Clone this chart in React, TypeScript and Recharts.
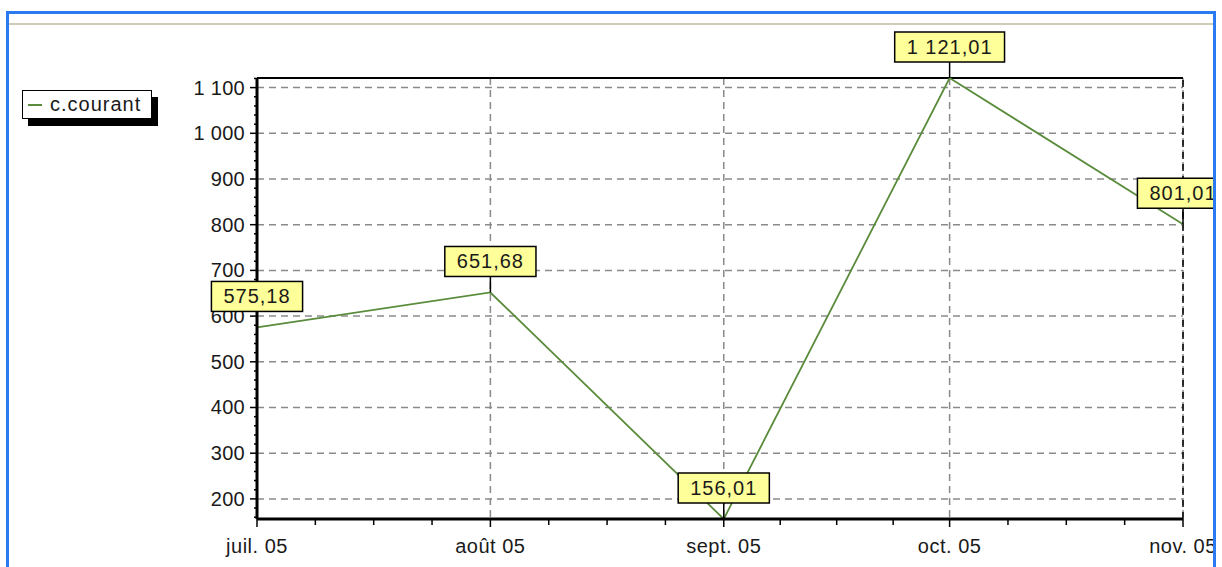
import React from 'react';
import { LineChart, Line, XAxis, YAxis, CartesianGrid, ReferenceLine, LabelList } from 'recharts';

const seriesName = 'c.courant';
const monthDates = [
  Date.UTC(2005, 6, 1),
  Date.UTC(2005, 7, 1),
  Date.UTC(2005, 8, 1),
  Date.UTC(2005, 9, 1),
  Date.UTC(2005, 10, 1),
];
const monthLabels = ['juil. 05', 'août 05', 'sept. 05', 'oct. 05', 'nov. 05'];
const values = [575.18, 651.68, 156.01, 1121.01, 801.01];
const valueLabels = ['575,18', '651,68', '156,01', '1 121,01', '801,01'];
const yMajorTicks = [200, 300, 400, 500, 600, 700, 800, 900, 1000, 1100];
const yMajorLabels = ['200', '300', '400', '500', '600', '700', '800', '900', '1 000', '1 100'];
const yMinorTicks = [160, 180, 220, 240, 260, 280, 320, 340, 360, 380, 420, 440, 460, 480, 520, 540, 560, 580, 620, 640, 660, 680, 720, 740, 760, 780, 820, 840, 860, 880, 920, 940, 960, 980, 1020, 1040, 1060, 1080, 1120];

const data = monthDates.map((t, i) => ({ t, v: values[i], label: valueLabels[i] }));

// minor x ticks: quarter subdivisions of each month
const xMinorTicks: number[] = [];
for (let i = 0; i < monthDates.length - 1; i++) {
  const a = monthDates[i];
  const b = monthDates[i + 1];
  for (let k = 1; k < 4; k++) xMinorTicks.push(a + ((b - a) * k) / 4);
}
const xTicks = [...monthDates, ...xMinorTicks].sort((a, b) => a - b);
const yTicks = [...yMajorTicks, ...yMinorTicks].sort((a, b) => a - b);

const FONT = '"Liberation Sans", Arial, sans-serif';
const TEXT = '#1a1a1a';

const YTick = (props: any) => {
  const { x, y, payload } = props;
  const idx = yMajorTicks.indexOf(payload.value);
  const major = idx >= 0;
  return (
    <g>
      <line x1={x - (major ? 7 : 3)} x2={x} y1={y} y2={y} stroke="#000" strokeWidth={1.5} />
      {major && (
        <text x={x - 12} y={y + 7} textAnchor="end" fontFamily={FONT} fontSize={20} letterSpacing={0.3} fill={TEXT}>
          {yMajorLabels[idx]}
        </text>
      )}
    </g>
  );
};

const XTick = (props: any) => {
  const { x, y, payload } = props;
  const idx = monthDates.indexOf(payload.value);
  const major = idx >= 0;
  return (
    <g>
      <line x1={x} x2={x} y1={y} y2={y + (major ? 8 : 6)} stroke="#000" strokeWidth={1.5} />
      {major && (
        <text x={x} y={y + 34} textAnchor="middle" fontFamily={FONT} fontSize={20} letterSpacing={0.5} fill={TEXT}>
          {monthLabels[idx]}
        </text>
      )}
    </g>
  );
};

const textWidth = (s: string) => {
  let w = 0;
  for (const c of s) {
    w += (c === ',' || c === ' ' ? 5.56 : 11.12) + 1;
  }
  return w;
};

const ValueLabel = (props: any) => {
  const { x, y, value } = props;
  if (x == null || y == null) return null;
  const s = String(value);
  const w = textWidth(s) + 24;
  const h = 30;
  const bottom = y - 16;
  return (
    <g>
      <line x1={x} x2={x} y1={bottom} y2={y} stroke="#000" strokeWidth={1.5} />
      <rect x={x - w / 2} y={bottom - h} width={w} height={h} fill="#ffff99" stroke="#000" strokeWidth={1.5} />
      <text x={x} y={bottom - 8} textAnchor="middle" fontFamily={FONT} fontSize={20} letterSpacing={1} fill={TEXT}>
        {s}
      </text>
    </g>
  );
};

export default function App() {
  const yMax = Math.max(...values);
  return (
    <div style={{ position: 'fixed', left: 0, top: 0, width: 1222, height: 567, background: '#fff', overflow: 'hidden' }}>
      <div style={{ position: 'absolute', left: 0, top: 0 }}>
        <LineChart width={1222} height={567} data={data} margin={{ top: 78, right: 39, bottom: 0, left: 0 }}>
          <CartesianGrid
            horizontalValues={yMajorTicks}
            verticalValues={monthDates}
            stroke="#8a8a8a"
            strokeWidth={1.5}
            strokeDasharray="7 5"
          />
          <XAxis
            dataKey="t"
            type="number"
            domain={[monthDates[0], monthDates[monthDates.length - 1]]}
            ticks={xTicks}
            interval={0}
            tick={<XTick />}
            tickLine={false}
            tickSize={0}
            tickMargin={0}
            height={48}
            axisLine={{ stroke: '#000', strokeWidth: 3 }}
          />
          <YAxis
            type="number"
            domain={['dataMin', 'dataMax']}
            ticks={yTicks}
            interval={0}
            tick={<YTick />}
            tickLine={false}
            tickSize={0}
            tickMargin={0}
            width={257}
            axisLine={{ stroke: '#000', strokeWidth: 3 }}
          />
          <ReferenceLine y={yMax} stroke="#000" strokeWidth={2} />
          <ReferenceLine x={monthDates[monthDates.length - 1]} stroke="#000" strokeWidth={1.5} strokeDasharray="7 5" />
          <Line
            dataKey="v"
            name={seriesName}
            stroke="#5a8c3c"
            strokeWidth={1.8}
            dot={false}
            isAnimationActive={false}
          >
            <LabelList dataKey="label" content={<ValueLabel />} />
          </Line>
        </LineChart>
      </div>
      {/* white strip outside the frame */}
      <div style={{ position: 'absolute', left: 1216, top: 0, width: 6, height: 567, background: '#fff' }} />
      <div style={{ position: 'absolute', left: 0, top: 0, width: 1222, height: 11, background: '#fff' }} />
      {/* frame */}
      <div
        style={{
          position: 'absolute',
          left: 6,
          top: 11,
          width: 1210,
          height: 600,
          border: '3px solid #2a7af2',
          boxSizing: 'border-box',
          pointerEvents: 'none',
        }}
      />
      <div style={{ position: 'absolute', left: 9, top: 23, width: 1204, height: 2, background: '#cfcbb8' }} />
      {/* legend */}
      <div
        style={{
          position: 'absolute',
          left: 22,
          top: 90,
          width: 130,
          height: 29,
          boxSizing: 'border-box',
          border: '1.5px solid #000',
          background: '#fff',
          boxShadow: '6px 7px 0 #000',
          display: 'flex',
          alignItems: 'center',
          fontFamily: FONT,
          fontSize: 20,
          letterSpacing: 1,
          color: TEXT,
        }}
      >
        <span style={{ display: 'inline-block', width: 14, height: 2, background: '#5a8c3c', marginLeft: 5, marginRight: 8 }} />
        <span>{seriesName}</span>
      </div>
    </div>
  );
}
